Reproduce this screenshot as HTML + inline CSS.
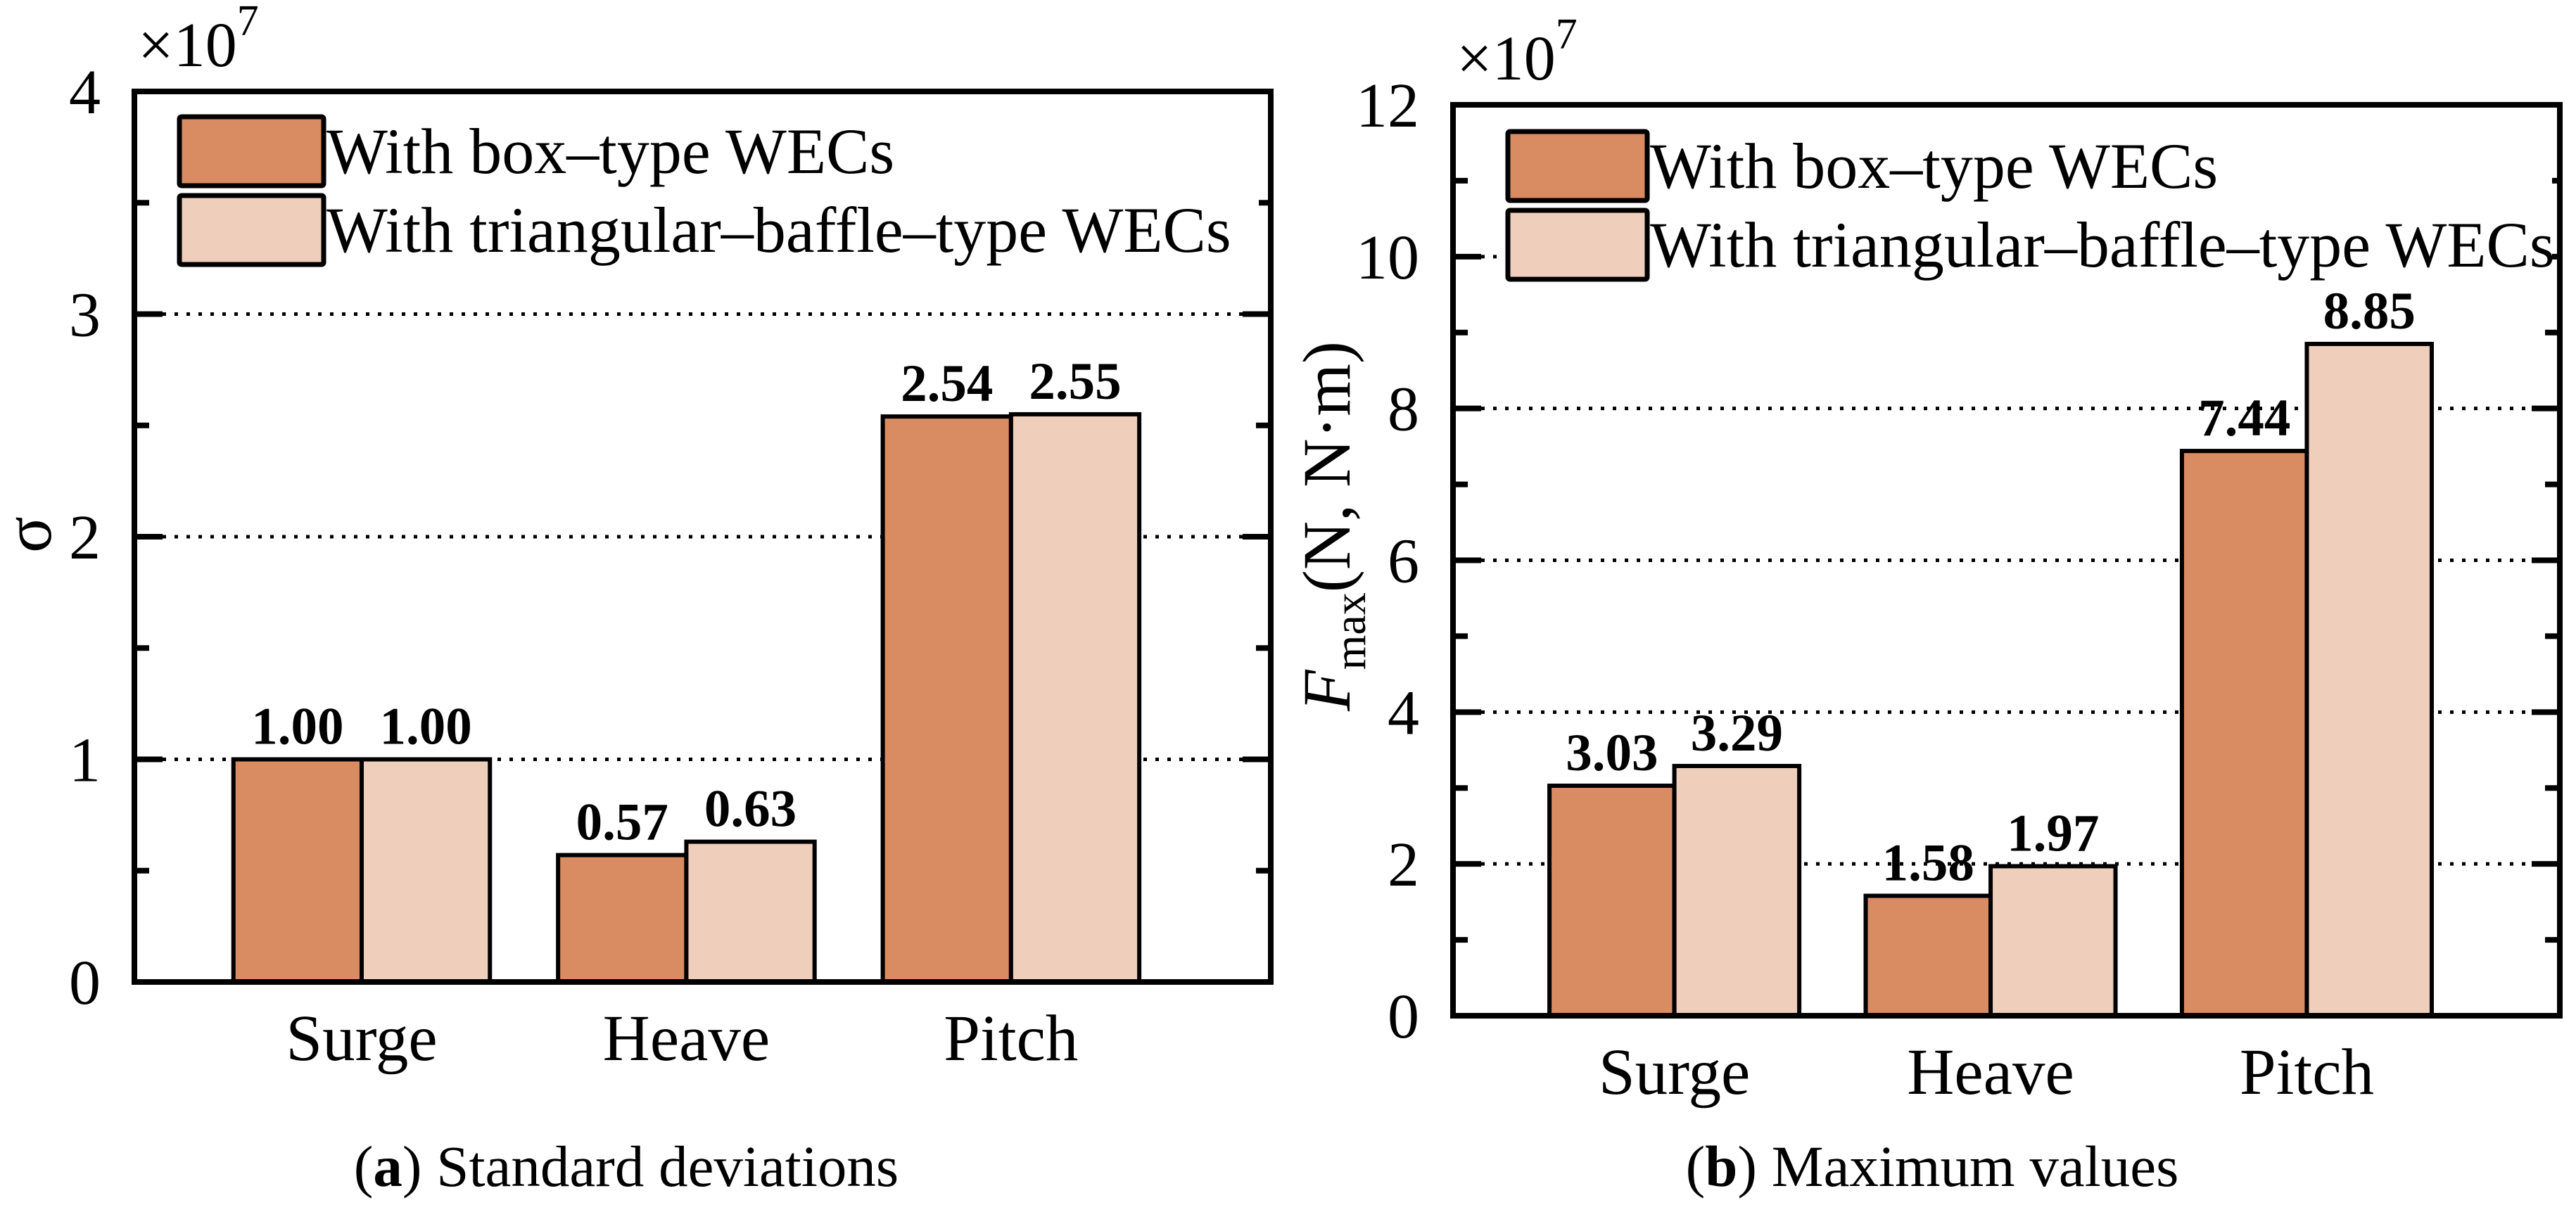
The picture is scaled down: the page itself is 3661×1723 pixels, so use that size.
<!DOCTYPE html>
<html><head><meta charset="utf-8"><style>
html,body{margin:0;padding:0;background:#fff;}
svg, svg text{font-family:"Liberation Serif","DejaVu Serif",serif;}
</style></head><body>
<svg id="fig" width="3661" height="1718" viewBox="0 0 3661 1718" xmlns="http://www.w3.org/2000/svg" font-family="Liberation Serif, DejaVu Serif, serif"></svg>
<script>
const categories = ["Surge","Heave","Pitch"];
const seriesNames = ["With box\u2013type WECs","With triangular\u2013baffle\u2013type WECs"];
const stdBox = [1.00, 0.57, 2.54];
const stdTri = [1.00, 0.63, 2.55];
const maxBox = [3.03, 1.58, 7.44];
const maxTri = [3.29, 1.97, 8.85];
const stdTicks = [0,1,2,3,4];
const maxTicks = [0,2,4,6,8,10,12];

const NS="http://www.w3.org/2000/svg";
const svg=document.getElementById('fig');
const colors=["#D98B62","#EFCEBB"];
const FF="'Liberation Serif','DejaVu Serif',serif";
function mk(tag,attrs,parent){const e=document.createElementNS(NS,tag);for(const k in attrs)e.setAttribute(k,attrs[k]);if(tag==='text')e.setAttribute('style','font-family:'+FF);(parent||svg).appendChild(e);return e;}

function chart(cfg){
  const g=mk('g',{});
  
  
  const L=cfg.x0,R=cfg.x1,T=cfg.y0,B=cfg.y1;
  const ymax=cfg.ticks[cfg.ticks.length-1];
  const yS=v=>B-(v/ymax)*(B-T);
  const step=(R-L)/3.5;
  const xS=i=>L+(i+0.7)*step;
  const bw=step*0.395;
  cfg.ticks.forEach((t,i)=>{
    if(i===0||i===cfg.ticks.length-1)return;
    const gl=mk('line',{x1:L+40,x2:R-40,y1:yS(t),y2:yS(t),stroke:'#000','stroke-width':5,'stroke-dasharray':'5 12'},g);
    
    
  });
  [cfg.a,cfg.b].forEach((arr,s)=>{
    arr.forEach((v,i)=>{
      const x=s===0?xS(i)-bw:xS(i);
      const r=mk('rect',{x:x,y:yS(v),width:bw,height:B-yS(v),fill:colors[s],stroke:'#000','stroke-width':6},g);
      
      
      const t=mk('text',{x:x+bw/2,y:yS(v)-22,'text-anchor':'middle','font-size':75,'font-weight':'bold'},g);
      t.textContent=v.toFixed(2);
      
      
    });
  });
  const fr=mk('rect',{x:L,y:T,width:R-L,height:B-T,fill:'none',stroke:'#000','stroke-width':8},g);
  
  
  const d=cfg.ticks[1]-cfg.ticks[0];
  cfg.ticks.forEach((t,i)=>{
    const y=yS(t);
    mk('line',{x1:L,x2:L+40,y1:y,y2:y,stroke:'#000','stroke-width':8},g);
    mk('line',{x1:R,x2:R-40,y1:y,y2:y,stroke:'#000','stroke-width':8},g);
    if(i<cfg.ticks.length-1){
      const ym=yS(t+d/2);
      mk('line',{x1:L,x2:L+21,y1:ym,y2:ym,stroke:'#000','stroke-width':8},g);
      mk('line',{x1:R,x2:R-21,y1:ym,y2:ym,stroke:'#000','stroke-width':8},g);
    }
    const lb=mk('text',{x:L-48,y:y+31,'text-anchor':'end','font-size':90},g);
    lb.textContent=t;
    
    
  });
  categories.forEach((c,i)=>{
    const t=mk('text',{x:xS(i),y:B+111,'text-anchor':'middle','font-size':93},g);
    t.textContent=c;
    
    
  });
  const ex=mk('text',{x:L+5,y:T-36,'font-size':90},g);
  ex.innerHTML='\u00d710<tspan font-size="62" dy="-44">7</tspan>';
  
  
  const lg=mk('g',{},g);
  
  
  mk('rect',{x:cfg.lx-6,y:cfg.ly-6,width:cfg.lw,height:226,fill:'#fff'},lg);
  seriesNames.forEach((n,s)=>{
    const y=cfg.ly+s*112;
    const e=mk('g',{},lg);
    
    
    mk('rect',{x:cfg.lx,y:y,width:cfg.bxw,height:98,fill:colors[s],stroke:'#000','stroke-width':7,rx:3},e);
    const t=mk('text',{x:cfg.lx+cfg.bxw+4,y:y+80,'font-size':92},e);
    t.textContent=n;
  });
  const yt=mk('text',{transform:`translate(${cfg.ytx},${cfg.yty}) rotate(-90)`,'text-anchor':'middle','font-size':96},g);
  yt.innerHTML=cfg.ytitle;
  
  
  const cp=mk('text',{x:cfg.cx,y:1686,'text-anchor':'middle','font-size':83},g);
  cp.innerHTML=cfg.caption;
  
  
}

chart({name:'chart-standard-deviations',x0:191,x1:1806,y0:130,y1:1396,ticks:stdTicks,a:stdBox,b:stdTri,
  lx:255,ly:166,bxw:205,lw:1540,ytx:72,yty:760,ytitle:'\u03c3',cx:890,
  caption:'(<tspan font-weight="bold">a</tspan>) Standard deviations'});
chart({name:'chart-maximum-values',x0:2065,x1:3638,y0:149,y1:1444,ticks:maxTicks,a:maxBox,b:maxTri,
  lx:2143,ly:187,bxw:198,lw:1490,ytx:1918,yty:748,
  ytitle:'<tspan font-style="italic">F</tspan><tspan font-size="64" dy="22">max</tspan><tspan dy="-22">(N, N\u00b7m)</tspan>',cx:2746,
  caption:'(<tspan font-weight="bold">b</tspan>) Maximum values'});
</script>
</body></html>
